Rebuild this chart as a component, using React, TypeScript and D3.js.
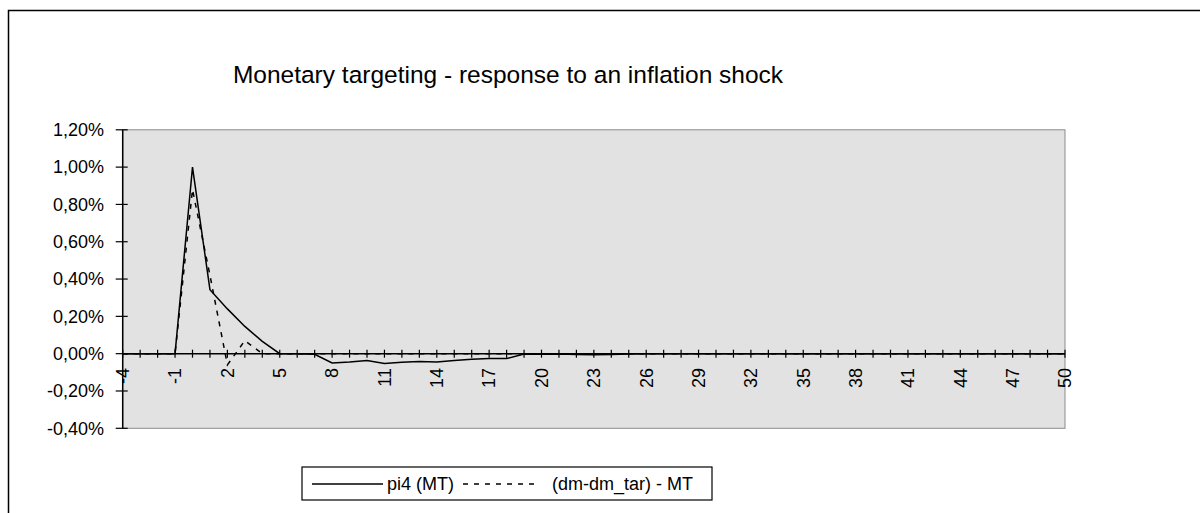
import React from "react";
import * as d3 from "d3";

const periods: number[] = d3.range(-4, 51);
// values in percent
const pi4MT: number[] = [
  0, 0, 0, 0, 1.0, 0.343, 0.24, 0.146, 0.066, 0, 0,
  -0.003, -0.05, -0.045, -0.036, -0.052, -0.046, -0.042, -0.044, -0.036, -0.03,
  -0.026, -0.026, -0.002, -0.003, -0.002, -0.004, -0.006, -0.004, -0.002, 0,
  0, 0, 0, 0, 0, 0, 0, 0, 0, 0,
  0, 0, 0, 0, 0, 0, 0, 0, 0, 0,
  0, 0, 0, 0,
];
const dmMT: number[] = [
  0, 0, 0, 0, 0.88, 0.42, -0.06, 0.07, 0, 0, 0,
  0, 0, 0, 0, 0, 0, 0, 0, 0, 0,
  0, 0, 0, 0, 0, 0, 0, 0, 0, 0,
  0, 0, 0, 0, 0, 0, 0, 0, 0, 0,
  0, 0, 0, 0, 0, 0, 0, 0, 0, 0,
  0, 0, 0, 0,
];
const yTicks: number[] = [-0.4, -0.2, 0, 0.2, 0.4, 0.6, 0.8, 1.0, 1.2];
const xLabelStep = 3;
const title = "Monetary targeting - response to an inflation shock";
const seriesNames = ["pi4 (MT)", "(dm-dm_tar) - MT"];

const FONT = "'Liberation Sans', Arial, sans-serif";

export default function App() {
  const W = 1200, H = 513;
  const x0 = 122.7, x1 = 1065, yT = 129.8, yB = 428.3;
  const x = d3.scaleLinear().domain([-4, 50]).range([x0, x1]);
  const y = d3.scaleLinear().domain([-0.4, 1.2]).range([yB, yT]);
  const fmt = (v: number) => d3.format(".2f")(v).replace(".", ",").replace("\u2212", "-") + "%";
  const line = d3
    .line<number>()
    .x((_, i) => x(periods[i]))
    .y((d) => y(d));
  const y0 = y(0);

  return (
    <svg
      width={W}
      height={H}
      style={{ position: "fixed", left: 0, top: 0, background: "#fff" }}
      fontFamily={FONT}
    >
      <rect x={0} y={0} width={W} height={H} fill="#fff" />
      {/* chart area border */}
      <rect x={8.5} y={10.5} width={1300} height={700} fill="none" stroke="#000" strokeWidth={1.5} />
      {/* title */}
      <text x={508} y={83} textAnchor="middle" fontSize={24.5} fill="#000">
        {title}
      </text>
      {/* plot area */}
      <rect x={x0} y={yT} width={x1 - x0} height={yB - yT} fill="#e2e2e2" stroke="#8c8c8c" strokeWidth={1} />
      {/* y axis */}
      <line x1={x0} x2={x0} y1={yT} y2={yB} stroke="#000" strokeWidth={1.5} />
      {yTicks.map((t) => (
        <g key={"y" + t}>
          <line x1={x0 - 7} x2={x0 + 5} y1={y(t)} y2={y(t)} stroke="#000" strokeWidth={1.2} />
          <text x={104} y={y(t)} dy="0.35em" textAnchor="end" fontSize={18} fill="#000">
            {fmt(t)}
          </text>
        </g>
      ))}
      {/* x axis */}
      <line x1={x0} x2={x1} y1={y0} y2={y0} stroke="#000" strokeWidth={1.5} />
      {periods.map((p) => (
        <line key={"xt" + p} x1={x(p)} x2={x(p)} y1={y0 - 4} y2={y0 + 4} stroke="#000" strokeWidth={1.2} />
      ))}
      {periods
        .filter((p, i) => i % xLabelStep === 0)
        .map((p) => (
          <text
            key={"xl" + p}
            transform={`translate(${x(p)},${368}) rotate(-90)`}
            textAnchor="end"
            dy="0.35em"
            fontSize={18}
            fill="#000"
          >
            {String(p)}
          </text>
        ))}
      {/* series */}
      <path d={line(dmMT) || ""} fill="none" stroke="#000" strokeWidth={1.5} strokeDasharray="5,6" />
      <path d={line(pi4MT) || ""} fill="none" stroke="#000" strokeWidth={1.5} />
      {/* legend */}
      <rect x={302} y={467} width={410} height={33} fill="#fff" stroke="#000" strokeWidth={1.2} />
      <line x1={312} x2={383} y1={484} y2={484} stroke="#000" strokeWidth={1.3} />
      <text x={387} y={484} dy="0.35em" fontSize={18} fill="#000">
        {seriesNames[0]}
      </text>
      <line x1={463} x2={537} y1={484} y2={484} stroke="#000" strokeWidth={1.3} strokeDasharray="5,6" />
      <text x={552} y={484} dy="0.35em" fontSize={18} fill="#000">
        {seriesNames[1]}
      </text>
    </svg>
  );
}
